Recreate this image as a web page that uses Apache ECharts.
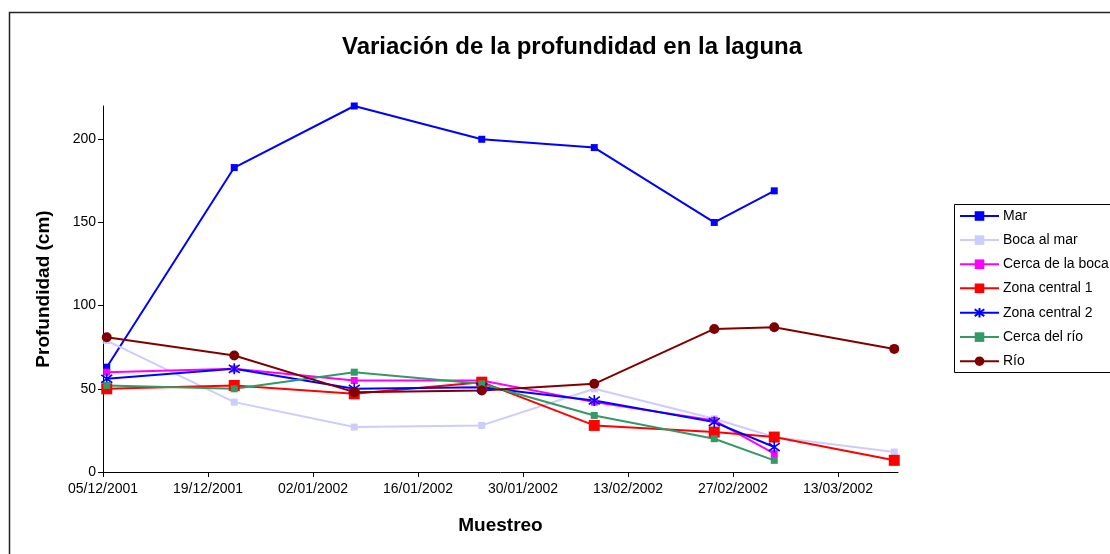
<!DOCTYPE html>
<html>
<head>
<meta charset="utf-8">
<script src="https://cdn.jsdelivr.net/npm/echarts@6/dist/echarts.min.js"></script>
<style>
html,body{margin:0;padding:0;background:#fff;}
#chart{width:1110px;height:554px;}
</style>
</head>
<body>
<div id="chart"></div>
<script>
// ---- data ----
const sampleDates = ['05/12/2001','22/12/2001','07/01/2002','24/01/2002','08/02/2002','24/02/2002','04/03/2002','20/03/2002'];
const tickLabels = ['05/12/2001','19/12/2001','02/01/2002','16/01/2002','30/01/2002','13/02/2002','27/02/2002','13/03/2002'];
const axisStart = '05/12/2001';
const axisEnd = '21/03/2002';

const mar            = [63, 183, 220, 200, 195, 150, 169, null];
const bocaAlMar      = [79, 42, 27, 28, 50, 32, 21, 12];
const cercaDeLaBoca  = [60, 62, 55, 55, 42, 31, 11, null];
const zonaCentral1   = [50, 52, 47, 54, 28, 24, 21, 7];
const zonaCentral2   = [56, 62, 50, 51, 43, 30, 15, null];
const cercaDelRio    = [52, 50, 60, 53, 34, 20, 7, null];
const rio            = [81, 70, 48, 49, 53, 86, 87, 74];

const yTicks = [0, 50, 100, 150, 200];
const yMax = 220;

// ---- helpers ----
function parseDMY(s){ const p = s.split('/'); return Date.UTC(+p[2], +p[1]-1, +p[0]); }
const DAY = 86400000;
const t0 = parseDMY(axisStart);
function dayOffset(s){ return (parseDMY(s) - t0) / DAY; }
function fmt(d){
  const dt = new Date(t0 + Math.round(d) * DAY);
  const dd = String(dt.getUTCDate()).padStart(2,'0');
  const mm = String(dt.getUTCMonth()+1).padStart(2,'0');
  return dd + '/' + mm + '/' + dt.getUTCFullYear();
}
const xs = sampleDates.map(s => dayOffset(s) + 0.5); // Excel centres points in the day slot
const xTickVals = tickLabels.map(dayOffset);
function pts(arr){ return arr.map((v,i) => v == null ? null : [xs[i], v]).filter(p => p); }

const starPath = 'path://M-4,-4L4,4M-4,4L4,-4M0,-5.6L0,5.6';

const font = 'Liberation Sans, Arial, sans-serif';

function series(name, data, color, symbol, size, extra){
  return Object.assign({
    name: name, type: 'line', data: pts(data),
    symbol: symbol, symbolSize: size,
    lineStyle: {color: color, width: 2},
    itemStyle: {color: color, borderColor: color, borderWidth: 0},
    emphasis: {disabled: true},
    animation: false
  }, extra || {});
}

const chart = echarts.init(document.getElementById('chart'), null, {renderer: 'canvas'});
chart.setOption({
  backgroundColor: '#fff',
  textStyle: {fontFamily: font},
  title: {
    text: 'Variación de la profundidad en la laguna',
    left: 567, top: 30, textAlign: 'center',
    textStyle: {fontFamily: font, fontSize: 24, fontWeight: 'bold', color: '#000'}
  },
  grid: {left: 103, right: 212, top: 106, bottom: 82, containLabel: false},
  xAxis: {
    type: 'value', min: 0, max: dayOffset(axisEnd), interval: 14,
    name: 'Muestreo', nameLocation: 'middle', nameGap: 44,
    nameTextStyle: {fontFamily: font, fontSize: 19, fontWeight: 'bold', color: '#000'},
    axisLine: {show: true, lineStyle: {color: '#000', width: 1}},
    axisTick: {show: true, inside: false, length: 5, lineStyle: {color: '#000'}, customValues: xTickVals},
    axisLabel: {color: '#000', fontSize: 14, fontFamily: font, margin: 10, customValues: xTickVals, formatter: v => fmt(v)},
    splitLine: {show: false}
  },
  yAxis: {
    type: 'value', min: 0, max: yMax, interval: 50,
    name: 'Profundidad (cm)', nameLocation: 'middle', nameGap: 50, nameRotate: 90,
    nameTextStyle: {fontFamily: font, fontSize: 19, fontWeight: 'bold', color: '#000'},
    axisLine: {show: true, lineStyle: {color: '#000', width: 1}},
    axisTick: {show: true, inside: false, length: 5, lineStyle: {color: '#000'}, customValues: yTicks},
    axisLabel: {color: '#000', fontSize: 14, fontFamily: font, margin: 7, customValues: yTicks},
    splitLine: {show: false}
  },
  legend: {
    orient: 'vertical', left: 954, top: 204, padding: 5,
    itemWidth: 39, itemHeight: 12, itemGap: 10.1,
    textStyle: {fontFamily: font, fontSize: 14, color: '#000', padding: [0,0,0,-1]},
    data: ['Mar','Boca al mar','Cerca de la boca','Zona central 1','Zona central 2','Cerca del río','Río']
  },
  graphic: [
    {type: 'rect', shape: {x: 9.5, y: 12.5, width: 1300, height: 800},
     style: {fill: null, stroke: '#222', lineWidth: 1.5}, silent: true, z: -1},
    {type: 'rect', shape: {x: 954.5, y: 204.5, width: 300, height: 168},
     style: {fill: null, stroke: '#000', lineWidth: 1}, silent: true}
  ],
  series: [
    series('Mar', mar, '#0000FF', 'rect', 7),
    series('Boca al mar', bocaAlMar, '#CCCCFF', 'rect', 7),
    series('Cerca de la boca', cercaDeLaBoca, '#FF00FF', 'rect', 7),
    series('Zona central 1', zonaCentral1, '#FF0000', 'rect', 11),
    series('Zona central 2', zonaCentral2, '#0000FF', starPath, 11,
      {itemStyle: {color: 'none', borderColor: '#0000FF', borderWidth: 1.6}}),
    series('Cerca del río', cercaDelRio, '#339966', 'rect', 7),
    series('Río', rio, '#800000', 'circle', 10)
  ]
});
</script>
</body>
</html>
